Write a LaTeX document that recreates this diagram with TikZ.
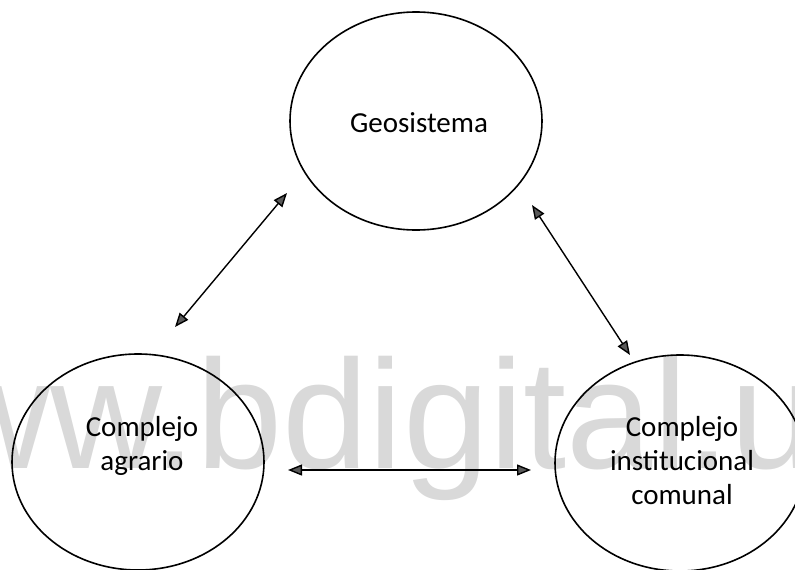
\documentclass[tikz,border=0pt]{standalone}
\usepackage{fontspec}
\setmainfont{Carlito}
\newfontfamily\wmfont{Liberation Sans}
\usetikzlibrary{shapes.geometric,arrows.meta}
\begin{document}
\begin{tikzpicture}[x=1pt,y=-1pt,
  bubble/.style={draw=black,line width=1.6pt,ellipse,inner sep=0pt},
  lbl/.style={font=\fontsize{29}{34}\selectfont,align=center,anchor=base,inner sep=0pt},
  link/.style={line width=1.4pt,{Triangle[length=14pt,width=11pt,fill=black!65]}-{Triangle[length=14pt,width=11pt,fill=black!65]}},
]
\useasboundingbox (0,0) rectangle (795,570);
\clip (0,0) rectangle (795,570);
\node[anchor=base west,inner sep=0pt,text=black!15,font=\wmfont\fontsize{155}{155}\selectfont] (wm) at (-174,468) {www.bdigital.u};

\node[bubble,minimum width=252pt,minimum height=218pt] (geo) at (416,121) {};
\node[bubble,minimum width=252pt,minimum height=216pt] (agr) at (138,462) {};
\node[bubble,minimum width=250pt,minimum height=216pt] (ins) at (680,463) {};

\node[lbl] (geot) at (419,132) {Geosistema};
\node[lbl] (agrt) at (142,470) {Complejo\\agrario};
\node[lbl] (inst) at (682,504) {Complejo\\institucional\\comunal};

\coordinate (a1) at (175,327);
\coordinate (a2) at (287,193);
\coordinate (b1) at (532,205);
\coordinate (b2) at (630,355);
\coordinate (c1) at (288,470);
\coordinate (c2) at (531,470);

\draw[link] (a1) -- (a2);
\draw[link] (b1) -- (b2);
\draw[link] (c1) -- (c2);
\end{tikzpicture}
\end{document}
